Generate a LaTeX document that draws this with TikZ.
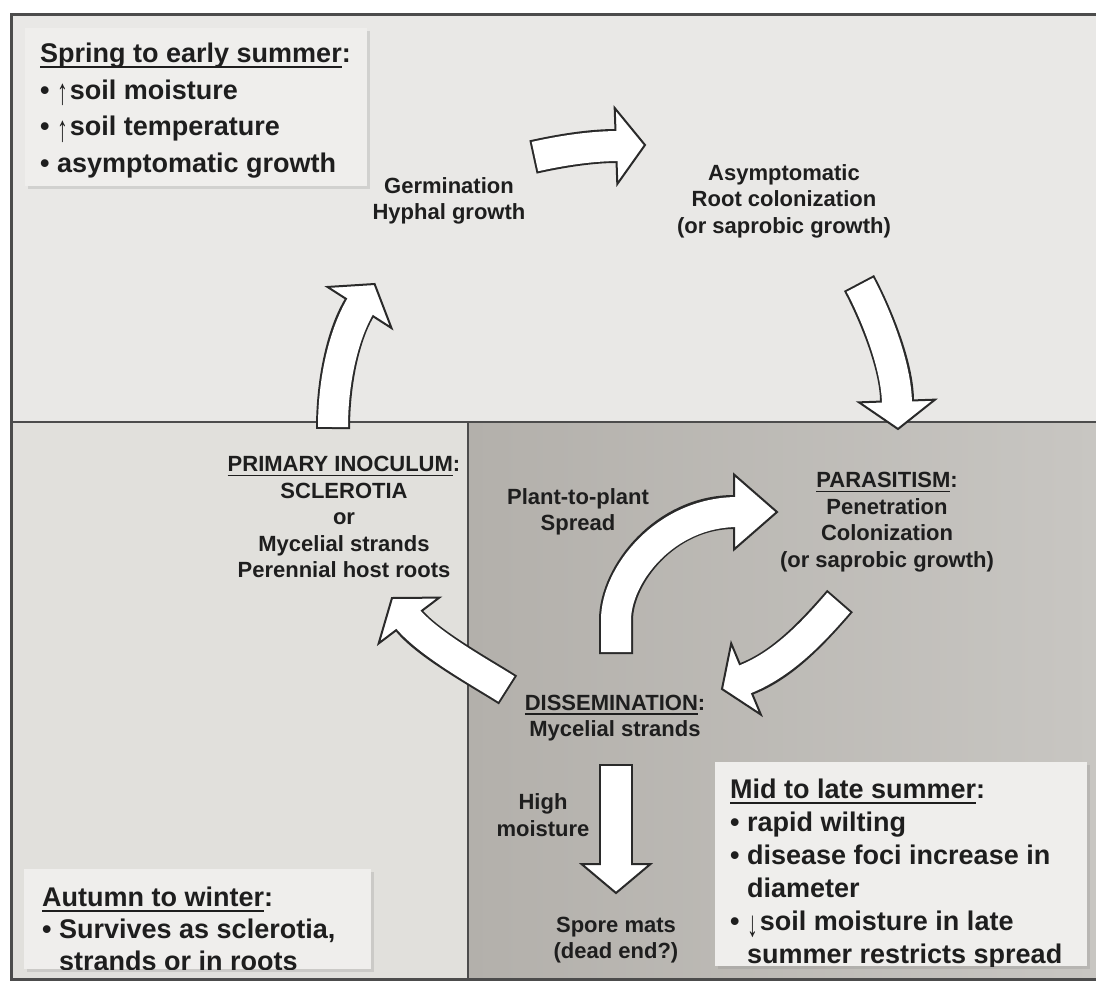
\documentclass[tikz,border=0pt]{standalone}
\usepackage{graphicx}
\usepackage{fontspec}
\setmainfont{Liberation Sans}
\usetikzlibrary{calc,shadows}

\definecolor{topgray}{HTML}{E9E8E6}
\definecolor{leftgray}{HTML}{E1E0DC}
\definecolor{darkleft}{HTML}{B3B0AB}
\definecolor{darkright}{HTML}{C8C6C2}
\definecolor{boxgray}{HTML}{EFEEEC}
\definecolor{edgecol}{HTML}{2A2A2A}
\definecolor{framecol}{HTML}{4C4C4C}
\definecolor{inkcol}{HTML}{1E1E1E}

\newcommand{\undl}[1]{\leavevmode\setbox0\hbox{#1}\rlap{\rule[-0.21em]{\wd0}{0.075em}}\box0}
\newcommand{\uparr}{\raisebox{-0.2em}{\scalebox{0.8}[1.35]{\mdseries ↑}}\hspace{2pt}}
\newcommand{\dnarr}{\raisebox{-0.2em}{\scalebox{0.8}[1.35]{\mdseries ↓}}\hspace{2pt}}

\begin{document}
\begin{tikzpicture}[x=1pt, y=-1pt,
    lbl/.style={align=center, inner sep=0pt, text=inkcol, font=\fontsize{22}{26.5}\selectfont\bfseries},
    boxtext/.style={align=left, inner sep=0pt, anchor=north west, text=inkcol, font=\fontsize{27}{36.5}\selectfont\bfseries},
    notebox/.style={fill=boxgray, drop shadow={shadow xshift=3pt, shadow yshift=-3pt, opacity=0.22}},
    shaftedge/.style={draw=edgecol, line width=34pt},
    shaftcore/.style={draw=white, line width=30pt, shorten <=2pt, shorten >=-4pt},
    headfill/.style={fill=white, draw=edgecol, line width=2pt, line join=miter}]
        \useasboundingbox (0,0) rectangle (1096,994);

        % Regions
        \fill[topgray] (11,14) rectangle (1096,422);
        \fill[leftgray] (11,422) rectangle (468,979);
        \shade[left color=darkleft, right color=darkright] (468,422) rectangle (1096,979);
        \draw[framecol, line width=2pt] (11,422) -- (1096,422);
        \draw[framecol, line width=2pt] (468,422) -- (468,979);
        \draw[framecol, line width=3pt] (1096,14) -- (11,14) -- (11,979) -- (1096,979);

        % Season boxes
        \fill[notebox] (25,28) rectangle (367,186);
        \node[boxtext] (spring) at (40,43) {\undl{Spring to early summer}:\\
            • \uparr soil moisture\\
            • \uparr soil temperature\\
            • asymptomatic growth};
        \fill[notebox] (24,869) rectangle (371,969);
        \begin{scope}
            \clip (24,869) rectangle (371,969);
            \node[boxtext, font=\fontsize{27}{32}\selectfont\bfseries] (autumn) at (42,887) {\undl{Autumn to winter}:\\
                • Survives as sclerotia,\\
                \phantom{• }strands or in roots};
        \end{scope}
        \fill[notebox] (715,762) rectangle (1087,966);
        \begin{scope}
            \clip (715,762) rectangle (1087,966);
            \node[boxtext, font=\fontsize{27}{33}\selectfont\bfseries] (midsummer) at (730,779) {\undl{Mid to late summer}:\\
                • rapid wilting\\
                • disease foci increase in\\
                \phantom{• }diameter\\
                • \dnarr soil moisture in late\\
                \phantom{• }summer restricts spread};
        \end{scope}

        % Germination -> root colonization
        \coordinate (gtail) at (533,157);
        \coordinate (gbase) at (616,146);
        \coordinate (gtip) at (645,145);
        \draw[shaftedge] (gtail) .. controls (560,151) and (590,146) .. (gbase);
        \filldraw[headfill] ($(gbase)!38pt!90:(gtip)$) -- (gtip) -- ($(gbase)!38pt!-90:(gtip)$) -- cycle;
        \draw[shaftcore] (gtail) .. controls (560,151) and (590,146) .. (gbase);

        % Root colonization -> parasitism
        \coordinate (rtail) at (859,283);
        \coordinate (rbase) at (897,401);
        \coordinate (rtip) at (898,429);
        \draw[shaftedge] (rtail) .. controls (874,311) and (897,365) .. (rbase);
        \filldraw[headfill] ($(rbase)!38pt!90:(rtip)$) -- (rtip) -- ($(rbase)!38pt!-90:(rtip)$) -- cycle;
        \draw[shaftcore] (rtail) .. controls (874,311) and (897,365) .. (rbase);

        % Primary inoculum -> germination
        \coordinate (ltail) at (333,429);
        \coordinate (lbase) at (359.5,307.5);
        \coordinate (ltip) at (374.6,284);
        \draw[shaftedge] (ltail) .. controls (333,380) and (343.8,333.1) .. (lbase);
        \filldraw[headfill] ($(lbase)!38pt!90:(ltip)$) -- (ltip) -- ($(lbase)!38pt!-90:(ltip)$) -- cycle;
        \draw[shaftcore] (ltail) .. controls (333,380) and (343.8,333.1) .. (lbase);

        % Plant-to-plant spread
        \coordinate (ptail) at (616,654);
        \coordinate (pbase) at (734,512);
        \coordinate (ptip) at (777,512);
        \draw[shaftedge] (ptail) -- (616,620) .. controls (616,575) and (665,512) .. (pbase);
        \filldraw[headfill] ($(pbase)!37.5pt!90:(ptip)$) -- (ptip) -- ($(pbase)!37.5pt!-90:(ptip)$) -- cycle;
        \draw[shaftcore] (ptail) -- (616,620) .. controls (616,575) and (665,512) .. (pbase);

        % Parasitism -> dissemination
        \coordinate (dtail) at (840,601);
        \coordinate (dbase) at (746,679);
        \coordinate (dtip) at (722,689);
        \draw[shaftedge] (dtail) .. controls (814,631) and (783,665) .. (dbase);
        \filldraw[headfill] ($(dbase)!38.5pt!90:(dtip)$) -- (dtip) -- ($(dbase)!38.5pt!-90:(dtip)$) -- cycle;
        \draw[shaftcore] (dtail) .. controls (814,631) and (783,665) .. (dbase);

        % Dissemination -> primary inoculum
        \coordinate (qtail) at (508,690);
        \coordinate (qbase) at (409,620.5);
        \coordinate (qtip) at (392,598);
        \draw[shaftedge] (qtail) .. controls (483,674) and (428,644) .. (qbase);
        \filldraw[headfill] ($(qbase)!38pt!90:(qtip)$) -- (qtip) -- ($(qbase)!38pt!-90:(qtip)$) -- cycle;
        \draw[shaftcore] (qtail) .. controls (483,674) and (428,644) .. (qbase);

        % Dissemination -> spore mats
        \coordinate (stail) at (616,764);
        \coordinate (sbase) at (616,864);
        \coordinate (stip) at (616,893);
        \draw[shaftedge] (stail) -- (sbase);
        \filldraw[headfill] ($(sbase)!34.5pt!90:(stip)$) -- (stip) -- ($(sbase)!34.5pt!-90:(stip)$) -- cycle;
        \draw[shaftcore] (stail) -- (sbase);

        % Stage labels
        \node[lbl] (germ) at (449,201) {Germination\\Hyphal growth};
        \node[lbl] (asym) at (784,201) {Asymptomatic\\Root colonization\\(or saprobic growth)};
        \node[lbl] (prim) at (344,517) {\undl{PRIMARY INOCULUM}:\\SCLEROTIA\\or\\Mycelial strands\\Perennial host roots};
        \node[lbl] (plant) at (578,512) {Plant-to-plant\\Spread};
        \node[lbl] (para) at (887,522) {\undl{PARASITISM}:\\Penetration\\Colonization\\(or saprobic growth)};
        \node[lbl] (diss) at (615,718) {\undl{DISSEMINATION}:\\Mycelial strands};
        \node[lbl] (high) at (543,815) {High\\moisture};
        \node[lbl] (spore) at (616,940) {Spore mats\\(dead end?)};
    \end{tikzpicture}
\end{document}
